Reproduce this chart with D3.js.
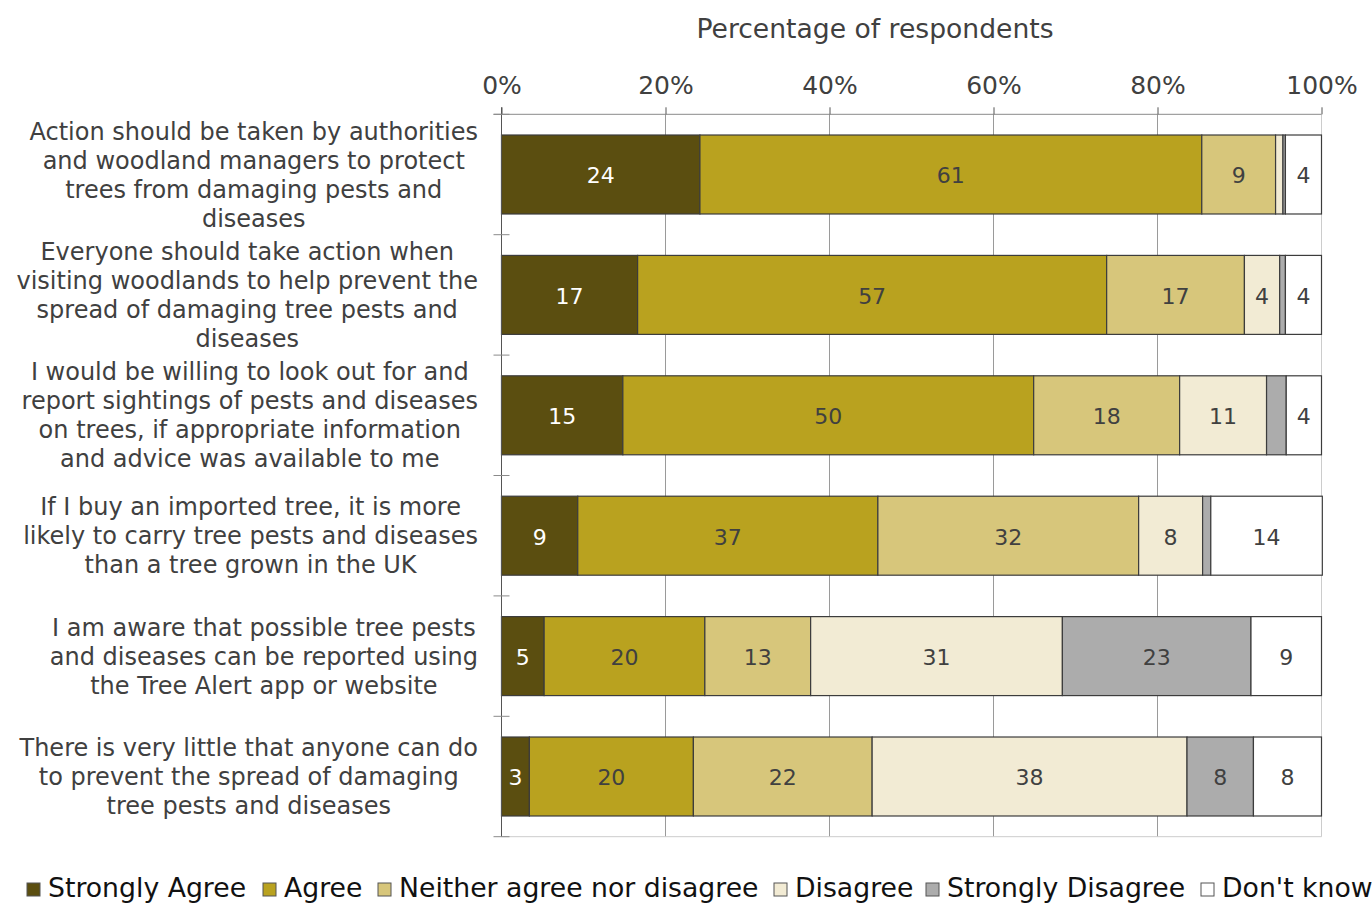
<!DOCTYPE html>
<html>
<head>
<meta charset="utf-8">
<script src="https://cdn.jsdelivr.net/npm/d3@7"></script>
<style>
  body { margin: 0; background: #fff; overflow: hidden; }
  text { font-family: "DejaVu Sans", Verdana, sans-serif; }
</style>
</head>
<body>
<svg class="chart" width="1372" height="904"></svg>
<script>
// statements, one line per array entry (as wrapped in the original)
var statements = [
    ["Action should be taken by authorities", "and woodland managers to protect", "trees from damaging pests and", "diseases"],
    ["Everyone should take action when", "visiting woodlands to help prevent the", "spread of damaging tree pests and", "diseases"],
    ["I would be willing to look out for and", "report sightings of pests and diseases", "on trees, if appropriate information", "and advice was available to me"],
    ["If I buy an imported tree, it is more", "likely to carry tree pests and diseases", "than a tree grown in the UK"],
    ["I am aware that possible tree pests", "and diseases can be reported using", "the Tree Alert app or website"],
    ["There is very little that anyone can do", "to prevent the spread of damaging", "tree pests and diseases"]
];
var seriesNames = ["Strongly Agree", "Agree", "Neither agree nor disagree", "Disagree", "Strongly Disagree", "Don't know"];
var seriesColors = ["#5b4e10", "#b9a21f", "#d7c67b", "#f2ebd4", "#acacac", "#ffffff"];

// percentages per statement
var stronglyAgree = [24.2, 16.6, 14.8, 9.3, 5.2, 3.4];
var agree = [61.2, 57.2, 50.1, 36.6, 19.6, 20.0];
var neither = [9.0, 16.8, 17.8, 31.8, 12.9, 21.8];
var disagree = [0.9, 4.3, 10.6, 7.8, 30.7, 38.4];
var stronglyDisagree = [0.3, 0.7, 2.4, 1.0, 23.0, 8.1];
var dontKnow = [4.4, 4.4, 4.3, 13.6, 8.6, 8.3];

var xTicks = [0, 20, 40, 60, 80, 100];
var axisTitle = "Percentage of respondents";

var seriesValues = [stronglyAgree, agree, neither, disagree, stronglyDisagree, dontKnow];
var rows = statements.map(function (s, i) {
    var row = { id: i };
    seriesNames.forEach(function (name, j) { row[name] = seriesValues[j][i]; });
    return row;
});

//svg chart variables
var margin = {top: 114.3, left: 501.5};
var width = 820;
var height = 722.4;
var textColor = "#404040";

var x = d3.scaleLinear().domain([0, 100]).range([margin.left, margin.left + width]);
var y = d3.scaleBand()
    .domain(rows.map(function (d) { return d.id; }))
    .range([margin.top, margin.top + height])
    .paddingInner(0.344)
    .paddingOuter(0.172);

var chart = d3.select(".chart");

//gridlines
chart.append("g")
    .selectAll("line")
    .data(xTicks.filter(function (t) { return t > 0; }))
    .enter().append("line")
    .attr("x1", function (d) { return x(d); })
    .attr("x2", function (d) { return x(d); })
    .attr("y1", margin.top)
    .attr("y2", margin.top + height)
    .style("stroke", function (d) { return d === 100 ? "#cccccc" : "#9a9a9a"; })
    .style("stroke-width", 1);
chart.append("line")
    .attr("x1", margin.left).attr("x2", margin.left + width)
    .attr("y1", margin.top + height).attr("y2", margin.top + height)
    .style("stroke", "#cccccc");

//stacked bars
var stack = d3.stack().keys(seriesNames);
var layers = stack(rows);

var layer = chart.selectAll(".layer")
    .data(layers)
    .enter().append("g")
    .attr("class", "layer")
    .style("fill", function (d, i) { return seriesColors[i]; });

layer.selectAll("rect")
    .data(function (d) { return d; })
    .enter().append("rect")
    .attr("x", function (d) { return x(d[0]); })
    .attr("y", function (d) { return y(d.data.id); })
    .attr("width", function (d) { return x(d[1]) - x(d[0]); })
    .attr("height", y.bandwidth())
    .style("stroke", "#3c3c3c")
    .style("stroke-width", 1.2);

//value labels (only when segment is wide enough)
layers.forEach(function (l, i) {
    chart.append("g")
        .selectAll("text")
        .data(l.filter(function (d) { return d[1] - d[0] >= 3; }))
        .enter().append("text")
        .attr("x", function (d) { return (x(d[0]) + x(d[1])) / 2; })
        .attr("y", function (d) { return y(d.data.id) + y.bandwidth() / 2 + 1; })
        .attr("dy", "0.36em")
        .attr("text-anchor", "middle")
        .style("font-size", "22px")
        .style("fill", i === 0 ? "#ffffff" : textColor)
        .text(function (d) { return Math.round(d[1] - d[0]); });
});

//top axis
var xAxis = chart.append("g")
    .attr("transform", "translate(0," + margin.top + ")")
    .call(d3.axisTop(x).tickValues(xTicks).tickSize(7).tickPadding(13)
        .tickFormat(function (d) { return d + "%"; }));
xAxis.select(".domain").attr("stroke", "#8a8a8a").attr("d", "M" + (margin.left - 8) + ",0H" + (margin.left + width));
xAxis.selectAll(".tick line").attr("stroke", "#555");
xAxis.selectAll("text")
    .style("font-family", "DejaVu Sans, Verdana, sans-serif")
    .style("font-size", "25px")
    .style("fill", textColor);

//left axis with crossing ticks at band boundaries
var step = y.step();
var boundaries = rows.map(function (d) { return y(d.id) - step * y.paddingInner() / 2; });
boundaries.push(margin.top + height);
chart.append("line")
    .attr("x1", margin.left).attr("x2", margin.left)
    .attr("y1", margin.top - 7).attr("y2", margin.top + height)
    .style("stroke", "#555");
chart.append("g")
    .selectAll("line")
    .data(boundaries)
    .enter().append("line")
    .attr("x1", margin.left - 8).attr("x2", margin.left + 8)
    .attr("y1", function (d) { return d; })
    .attr("y2", function (d) { return d; })
    .style("stroke", "#8a8a8a");

//statement labels: centred block, right edge at 478
var lineHeight = 29;
rows.forEach(function (r, i) {
    var lines = statements[i];
    var g = chart.append("g");
    var cy = y(r.id) + y.bandwidth() / 2;
    var texts = g.selectAll("text")
        .data(lines)
        .enter().append("text")
        .attr("y", function (d, k) { return cy + (k - (lines.length - 1) / 2) * lineHeight; })
        .attr("dy", "0.36em")
        .attr("text-anchor", "middle")
        .style("font-size", "24px")
        .style("fill", textColor)
        .text(function (d) { return d; });
    var maxW = 0;
    texts.each(function () { maxW = Math.max(maxW, this.getComputedTextLength()); });
    texts.attr("x", 478 - maxW / 2);
});

//axis title
chart.append("text")
    .attr("x", 875)
    .attr("y", 28)
    .attr("dy", "0.36em")
    .attr("text-anchor", "middle")
    .style("font-size", "26.6px")
    .style("fill", textColor)
    .text(axisTitle);

//legend
var legendX = [27, 263, 378, 774, 926, 1201];
var legend = chart.append("g").attr("class", "legend");
seriesNames.forEach(function (name, i) {
    legend.append("rect")
        .attr("x", legendX[i]).attr("y", 883)
        .attr("width", 13).attr("height", 13)
        .style("fill", seriesColors[i])
        .style("stroke", "#555")
        .style("stroke-width", 1);
    legend.append("text")
        .attr("x", legendX[i] + 21)
        .attr("y", 897)
        .style("font-size", "26.7px")
        .style("fill", "#111")
        .text(name);
});
</script>
</body>
</html>
